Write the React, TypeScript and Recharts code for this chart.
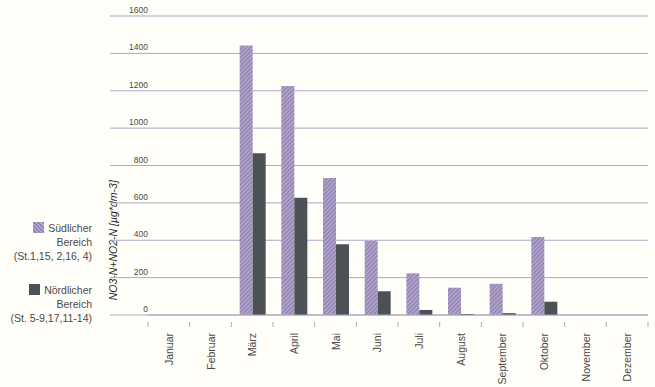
import React from "react";
import { BarChart, Bar, XAxis, YAxis, CartesianGrid } from "recharts";

const months = ["Januar", "Februar", "März", "April", "Mai", "Juni", "Juli", "August", "September", "Oktober", "November", "Dezember"];
const suedlich: (number | null)[] = [null, null, 1442, 1225, 733, 397, 223, 146, 167, 417, null, null];
const noerdlich: (number | null)[] = [null, null, 865, 628, 378, 127, 27, 5, 10, 71, null, null];
const yTicks = [0, 200, 400, 600, 800, 1000, 1200, 1400, 1600];

const data = months.map((m, i) => ({ month: m, sued: suedlich[i], nord: noerdlich[i] }));

const W = 655;
const H = 387;
const MARGIN = { top: 16, right: 7, bottom: 0, left: 108 };
const Y_W = 40;
const X_H = 72;
const PLOT_W = W - MARGIN.left - Y_W - MARGIN.right;
const BAND = PLOT_W / months.length;
const GRID = "#a7a9c6";
const TEXT = "#4a4a4a";
const FONT = "'Liberation Sans', Arial, sans-serif";

const YTick = (props: any) => {
  const { x, y, payload } = props;
  return (
    <g>
      <line x1={x - 38} x2={x} y1={y} y2={y} stroke={GRID} strokeWidth={1} />
      <text x={x} y={y - 3} textAnchor="end" fontSize={8.5} fill={TEXT} fontFamily={FONT}>
        {payload.value}
      </text>
    </g>
  );
};

const XTick = (props: any) => {
  const { x, y, payload, index } = props;
  const left = x - BAND / 2;
  const right = x + BAND / 2;
  return (
    <g>
      <line x1={left} x2={left} y1={y - 1} y2={y + 4} stroke={GRID} />
      {index === months.length - 1 && <line x1={right} x2={right} y1={y - 1} y2={y + 4} stroke={GRID} />}
      <text
        x={x + 4}
        y={y + 10}
        transform={`rotate(-90, ${x + 4}, ${y + 10})`}
        textAnchor="end"
        fontSize={10.5}
        fill={TEXT}
        fontFamily={FONT}
      >
        {payload.value}
      </text>
    </g>
  );
};

const YLabel = (props: any) => {
  const vb = props.viewBox || {};
  const cx = vb.x + 9;
  const cy = vb.y + vb.height * 0.75;
  return (
    <text
      x={cx}
      y={cy}
      transform={`rotate(-90, ${cx}, ${cy})`}
      textAnchor="middle"
      fontSize={10.5}
      fontStyle="italic"
      fill="#2a2a2a"
      fontFamily={FONT}
    >
      NO3-N+NO2-N [µg*dm-3]
    </text>
  );
};

const LegendBlock = () => {
  const item = (label: string, swatch: React.ReactNode, sub: string, mt: number) => (
    <div style={{ marginTop: mt, textAlign: "right", lineHeight: "14px", fontSize: 10.5, color: TEXT, fontFamily: FONT }}>
      <div>
        {swatch}
        {label}
      </div>
      <div>Bereich</div>
      <div>{sub}</div>
    </div>
  );
  const purple = (
    <span
      style={{
        display: "inline-block",
        width: 11,
        height: 11,
        marginRight: 4,
        verticalAlign: "-1px",
        background: "repeating-linear-gradient(45deg, #b6a8cf 0px, #b6a8cf 1.5px, #8f7fae 1.5px, #8f7fae 3px)",
      }}
    />
  );
  const dark = (
    <span style={{ display: "inline-block", width: 11, height: 11, marginRight: 4, verticalAlign: "-1px", background: "#4c5155" }} />
  );
  return (
    <div style={{ position: "absolute", left: 0, top: 221, width: 92 }}>
      {item("Südlicher", purple, "(St.1,15, 2,16, 4)", 0)}
      {item("Nördlicher", dark, "(St. 5-9,17,11-14)", 20)}
    </div>
  );
};

export default function App() {
  return (
    <div style={{ position: "absolute", left: 0, top: 0, width: W, height: H, background: "#fffef8" }}>
      <BarChart width={W} height={H} data={data} margin={MARGIN} barCategoryGap="20%" barGap={0}>
        <defs>
          <pattern id="hatch" patternUnits="userSpaceOnUse" width="3" height="3" patternTransform="rotate(45)">
            <rect x="0" y="0" width="3" height="3" fill="#b6a8cf" />
            <rect x="0" y="0" width="1.4" height="3" fill="#8f7fae" />
          </pattern>
        </defs>
        <CartesianGrid vertical={false} stroke={GRID} strokeWidth={1} />
        <XAxis
          dataKey="month"
          interval={0}
          height={X_H}
          tickLine={false}
          axisLine={{ stroke: GRID }}
          tick={<XTick />}
        />
        <YAxis
          width={Y_W}
          domain={[0, 1600]}
          ticks={yTicks}
          tickLine={false}
          axisLine={false}
          tickSize={0}
          tickMargin={0}
          tick={<YTick />}
          label={<YLabel />}
        />
        <Bar dataKey="sued" fill="url(#hatch)" isAnimationActive={false} />
        <Bar dataKey="nord" fill="#4c5155" isAnimationActive={false} />
      </BarChart>
      <LegendBlock />
    </div>
  );
}
